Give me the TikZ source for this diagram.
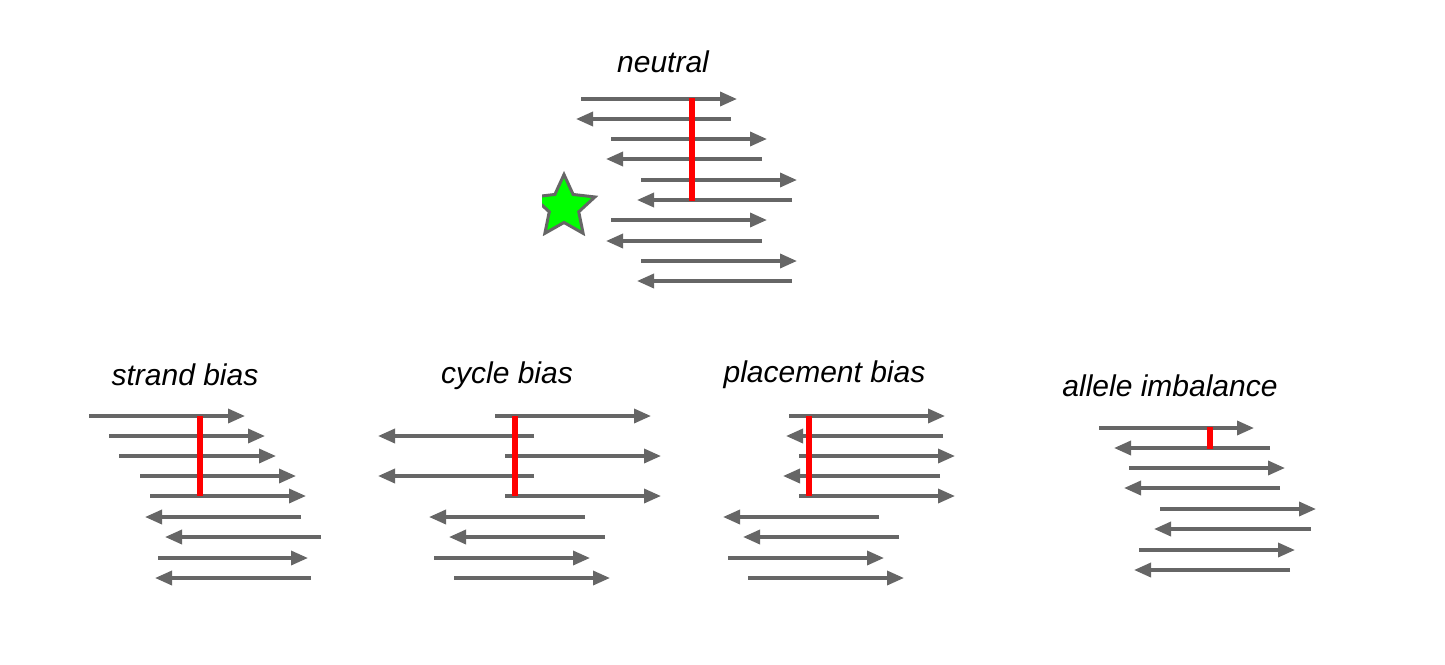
\documentclass[tikz,border=0pt]{standalone}
\usepackage{fontspec}
\setmainfont{Liberation Sans}
\usetikzlibrary{arrows.meta}
\definecolor{gry}{HTML}{666666}
\definecolor{grn}{HTML}{00FF00}
\tikzset{
  readarrow/.style={draw=gry, line width=3.5pt, -{Triangle[length=17pt,width=14pt]}},
  varline/.style={draw=red, line width=6pt},
  ttl/.style={anchor=base, inner sep=0pt, font=\fontsize{30}{36}\selectfont\itshape},
  starshape/.style={draw=gry, fill=grn, line width=3pt, line join=miter}
}
\newcommand\readR[3]{\draw[readarrow] (#2,#1) -- (#3,#1);}
\newcommand\readL[3]{\draw[readarrow] (#3,#1) -- (#2,#1);}
\begin{document}
\begin{tikzpicture}[x=1pt,y=-1pt]
\useasboundingbox (0,0) rectangle (1445,664);
% ---------- neutral ----------
\node[ttl] (tneutral) at (663,72) {neutral};
\readR{99}{581}{737}
\readL{119}{576}{731}
\readR{139}{611}{767}
\readL{159}{606}{762}
\readR{180}{641}{797}
\readL{200}{637}{792}
\readR{220}{611}{767}
\readL{241}{606}{762}
\readR{261}{641}{797}
\readL{281}{637}{792}
\draw[varline] (692,98) -- (692,201);
\begin{scope}
  \clip (542,160) rectangle (620,250);
  \draw[starshape, shift={(564,207)}]
    (-90:32.5) -- (-54:15.5) -- (-18:32.5) -- (18:15.5) -- (54:32.5) -- (90:15.5)
    -- (126:32.5) -- (162:15.5) -- (198:32.5) -- (234:15.5) -- cycle;
\end{scope}
% ---------- strand bias ----------
\node[ttl] (tstrand) at (185,385) {strand bias};
\readR{416}{89}{245}
\readR{436}{109}{265}
\readR{456}{119}{276}
\readR{476}{140}{296}
\readR{496}{150}{306}
\readL{517}{145}{301}
\readL{537}{165}{321}
\readR{558}{158}{308}
\readL{578}{155}{311}
\draw[varline] (200,416) -- (200,496);
% ---------- cycle bias ----------
\node[ttl] (tcycle) at (507,383) {cycle bias};
\readR{416}{495}{651}
\readL{436}{378}{534}
\readR{456}{505}{661}
\readL{476}{378}{534}
\readR{496}{505}{661}
\readL{517}{429}{585}
\readL{537}{449}{605}
\readR{558}{434}{590}
\readR{578}{454}{610}
\draw[varline] (515,416) -- (515,496);
% ---------- placement bias ----------
\node[ttl] (tplace) at (824.5,382) {placement bias};
\readR{416}{789}{945}
\readL{436}{786}{943}
\readR{456}{799}{955}
\readL{476}{783}{940}
\readR{496}{799}{955}
\readL{517}{723}{879}
\readL{537}{743}{899}
\readR{558}{728}{884}
\readR{578}{748}{904}
\draw[varline] (809,416) -- (809,496);
% ---------- allele imbalance ----------
\node[ttl] (tallele) at (1170,396) {allele imbalance};
\readR{428}{1099}{1254}
\readL{448}{1114}{1270}
\readR{468}{1129}{1285}
\readL{488}{1124}{1280}
\readR{509}{1160}{1316}
\readL{529}{1154}{1311}
\readR{550}{1139}{1295}
\readL{570}{1134}{1290}
\draw[varline] (1210,427) -- (1210,449);
\end{tikzpicture}
\end{document}
